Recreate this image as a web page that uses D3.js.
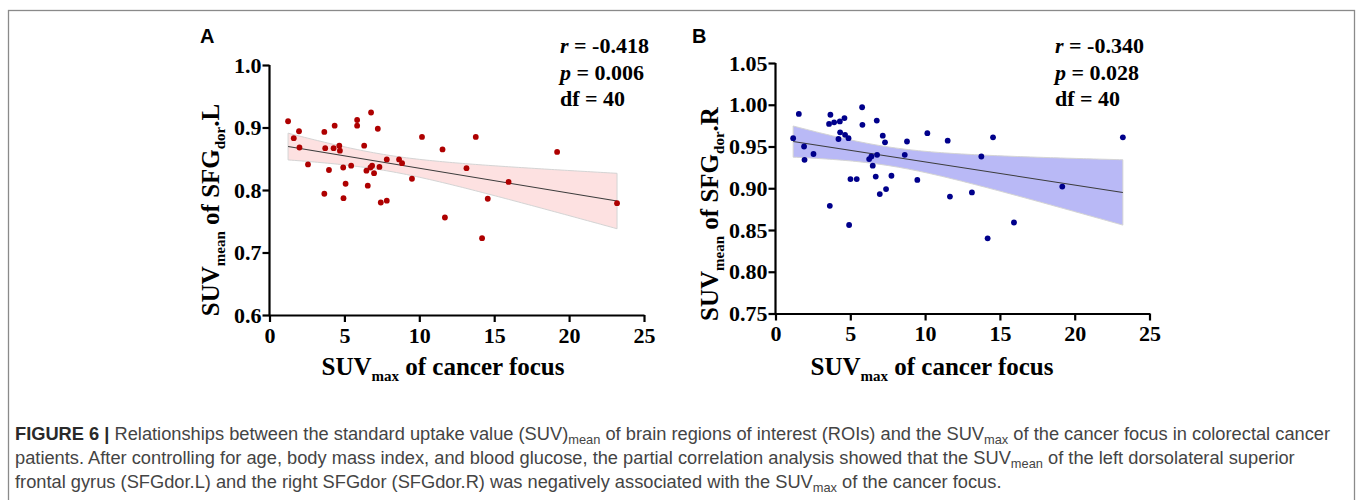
<!DOCTYPE html>
<html><head><meta charset="utf-8">
<script src="https://cdn.jsdelivr.net/npm/d3@7"></script>
<style>
html,body{margin:0;padding:0;background:#fff;}
svg{display:block;}
</style></head>
<body>
<svg id="fig" width="1360" height="500"></svg>
<script>
// ---- data ----
const xTicks = [0, 5, 10, 15, 20, 25];
const yTicksA = [0.6, 0.7, 0.8, 0.9, 1.0];
const yTicksB = [0.75, 0.80, 0.85, 0.90, 0.95, 1.00, 1.05];

const suvMaxA = [1.24,1.62,1.97,2.0,2.57,3.66,3.72,3.66,3.97,4.35,4.28,4.66,4.70,4.92,4.94,5.08,5.45,5.85,5.85,6.32,6.47,6.56,6.78,6.74,6.85,6.98,7.23,7.34,7.43,7.83,7.83,8.65,8.85,9.51,10.18,11.55,11.71,13.15,13.77,14.19,14.57,15.96,19.20,23.2];
const sfgL   = [0.910,0.883,0.894,0.868,0.841,0.893,0.867,0.794,0.832,0.903,0.867,0.871,0.863,0.836,0.787,0.810,0.839,0.912,0.903,0.871,0.831,0.807,0.924,0.836,0.839,0.827,0.898,0.837,0.780,0.783,0.849,0.849,0.843,0.818,0.885,0.865,0.756,0.835,0.885,0.723,0.786,0.813,0.861,0.779];

const suvMaxB = [1.18,1.56,1.91,1.94,2.54,3.58,3.67,3.63,3.92,4.21,4.30,4.32,4.61,4.65,4.88,4.92,5.01,5.43,5.79,5.81,6.26,6.41,6.50,6.70,6.77,6.79,6.97,7.17,7.32,7.39,7.75,8.64,8.79,9.48,10.15,11.51,11.66,13.13,13.76,14.18,14.54,15.94,19.17,23.22];
const sfgR   = [0.960,0.989,0.950,0.934,0.941,0.977,0.988,0.879,0.979,0.959,0.980,0.967,0.984,0.964,0.960,0.856,0.911,0.911,0.997,0.976,0.935,0.938,0.927,0.914,0.981,0.940,0.893,0.963,0.955,0.899,0.915,0.940,0.956,0.910,0.966,0.957,0.890,0.895,0.938,0.840,0.961,0.859,0.902,0.961];

const statsA = ["r = -0.418", "p = 0.006", "df = 40"];
const statsB = ["r = -0.340", "p = 0.028", "df = 40"];

const svg = d3.select("#fig");
const serif = "'Liberation Serif','Times New Roman',serif";

// figure border
svg.append("rect").attr("x",8.5).attr("y",10.5).attr("width",1346).attr("height",520)
  .attr("fill","none").attr("stroke","#8a8a8a").attr("stroke-width",1.3);

function fitLine(xs, ys){
  const n = xs.length, mx = d3.mean(xs), my = d3.mean(ys);
  let sxx=0, sxy=0;
  for(let i=0;i<n;i++){ sxx+=(xs[i]-mx)**2; sxy+=(xs[i]-mx)*(ys[i]-my); }
  const b = sxy/sxx, a = my - b*mx;
  let sse=0; for(let i=0;i<n;i++){ sse += (ys[i]-(a+b*xs[i]))**2; }
  const s = Math.sqrt(sse/(n-2));
  return {a,b,s,n,mx,sxx};
}

function panel(cfg){
  const g = svg.append("g");
  const x = d3.scaleLinear().domain([0,25]).range([cfg.x0, cfg.x1]);
  const y = d3.scaleLinear().domain(cfg.ydom).range([cfg.yb, cfg.yt]);

  // regression & 95% CI band
  const f = fitLine(cfg.xs, cfg.ys);
  const t = 2.018;
  const xmin = d3.min(cfg.xs), xmax = d3.max(cfg.xs);
  const xsamp = d3.range(0, 101).map(i => xmin + (xmax-xmin)*i/100);
  const hw = xv => t*f.s*Math.sqrt(1/f.n + (xv-f.mx)**2/f.sxx);
  const area = d3.area().x(d=>x(d)).y0(d=>y(f.a+f.b*d - hw(d))).y1(d=>y(f.a+f.b*d + hw(d)));
  g.append("path").datum(xsamp).attr("d",area).attr("fill",cfg.band)
    .attr("stroke","#d4d4d4").attr("stroke-width",1);
  g.append("line").attr("x1",x(xmin)).attr("x2",x(xmax))
    .attr("y1",y(f.a+f.b*xmin)).attr("y2",y(f.a+f.b*xmax))
    .attr("stroke","#3c3c3c").attr("stroke-width",1.1);

  // points
  g.selectAll("circle.pt").data(cfg.xs.map((v,i)=>[v,cfg.ys[i]])).join("circle")
    .attr("class","pt").attr("cx",d=>x(d[0])).attr("cy",d=>y(d[1])).attr("r",2.9)
    .attr("fill",cfg.color);

  // axes
  const xa = g.append("g").attr("transform",`translate(0,${cfg.yb})`)
    .call(d3.axisBottom(x).tickValues(xTicks).tickFormat(d3.format("d")).tickSize(7).tickSizeOuter(0).tickPadding(5));
  const ya = g.append("g").attr("transform",`translate(${cfg.x0},0)`)
    .call(d3.axisLeft(y).tickValues(cfg.yticks).tickFormat(d3.format(cfg.yfmt)).tickSize(7).tickSizeOuter(0).tickPadding(1));
  [xa,ya].forEach(a=>{
    a.selectAll("path,line").attr("stroke","#000").attr("stroke-width",2.2);
    a.selectAll("text").attr("fill","#000").attr("font-family",serif)
      .attr("font-weight","bold").attr("font-size",22);
  });
  ya.select("path").attr("d",`M0,${cfg.yb+1.1}V${cfg.yt}`);

  // axis titles
  const xt = g.append("text").attr("x",cfg.xlabX).attr("y",375).attr("text-anchor","middle")
    .attr("font-family",serif).attr("font-weight","bold").attr("font-size",25).attr("fill","#000");
  xt.append("tspan").text("SUV");
  xt.append("tspan").attr("font-size",15).attr("dy",6).text("max");
  xt.append("tspan").attr("dy",-6).text(" of cancer focus");

  const yt = g.append("text").attr("transform",`translate(${cfg.ylabX},${cfg.ylabY}) rotate(-90)`)
    .attr("text-anchor","middle").attr("font-family",serif).attr("font-weight","bold")
    .attr("font-size",25).attr("fill","#000");
  yt.append("tspan").text("SUV");
  yt.append("tspan").attr("font-size",15).attr("dy",6).text("mean");
  yt.append("tspan").attr("dy",-6).text(" of SFG");
  yt.append("tspan").attr("font-size",15).attr("dy",6).text("dor");
  yt.append("tspan").attr("dy",-6).text(cfg.side);

  // stats
  const base = [53, 80, 106];
  cfg.stats.forEach((s,i)=>{
    const tx = g.append("text").attr("x",cfg.statX).attr("y",base[i])
      .attr("font-family",serif).attr("font-weight","bold").attr("font-size",22).attr("fill","#000");
    if(i<2){
      tx.append("tspan").attr("font-style","italic").text(s.slice(0,1));
      tx.append("tspan").text(s.slice(1));
    } else tx.text(s);
  });

  // panel letter
  g.append("text").attr("x",cfg.letterX).attr("y",43).text(cfg.letter)
    .attr("font-family","'Liberation Sans',Arial,sans-serif").attr("font-weight","bold")
    .attr("font-size",20).attr("fill","#000");
}

panel({x0:269.5, x1:644, yt:65, yb:315, ydom:[0.6,1.0], yticks:yTicksA, yfmt:".1f",
  xs:suvMaxA, ys:sfgL, color:"#ae0000", band:"#fde1e1",
  xlabX:443, ylabX:219, ylabY:210, side:".L", stats:statsA, statX:560,
  letter:"A", letterX:200});

panel({x0:775.5, x1:1149.5, yt:63, yb:313.5, ydom:[0.75,1.05], yticks:yTicksB, yfmt:".2f",
  xs:suvMaxB, ys:sfgR, color:"#00008b", band:"#b9b9f6",
  xlabX:932, ylabX:718, ylabY:214, side:".R", stats:statsB, statX:1055,
  letter:"B", letterX:692});

// caption (condensed look: horizontally scaled sans, same scale for all lines)
const capFont = "'Liberation Sans Narrow','Arial Narrow','Liberation Sans',Arial,sans-serif";
const capLines = [
  [["b","FIGURE 6 | "],["n","Relationships between the standard uptake value (SUV)"],["s","mean"],["n"," of brain regions of interest (ROIs) and the SUV"],["s","max"],["n"," of the cancer focus in colorectal cancer"]],
  [["n","patients. After controlling for age, body mass index, and blood glucose, the partial correlation analysis showed that the SUV"],["s","mean"],["n"," of the left dorsolateral superior"]],
  [["n","frontal gyrus (SFGdor.L) and the right SFGdor (SFGdor.R) was negatively associated with the SUV"],["s","max"],["n"," of the cancer focus."]]
];
const capY = [440, 464, 488];
const capGroups = [];
let firstW = 0;
capLines.forEach((segs,li)=>{
  const cg = svg.append("g");
  const tx = cg.append("text").attr("x",0).attr("y",0)
    .attr("font-family",capFont).attr("font-size",18.5).attr("fill","#444");
  let sub=false;
  segs.forEach(([k,s])=>{
    const sp = tx.append("tspan").text(s);
    if(k==="b") sp.attr("font-weight","bold").attr("fill","#2a2a2a");
    if(k==="s"){ sp.attr("font-size",13).attr("dy",4); sub=true; }
    else if(sub){ sp.attr("dy",-4); sub=false; }
  });
  if(li===0) firstW = tx.node().getComputedTextLength();
  capGroups.push(cg);
});
const capSx = (1331-15)/firstW;
capGroups.forEach((cg,li)=>cg.attr("transform",`translate(15,${capY[li]}) scale(${capSx},1)`));
</script>
</body></html>
